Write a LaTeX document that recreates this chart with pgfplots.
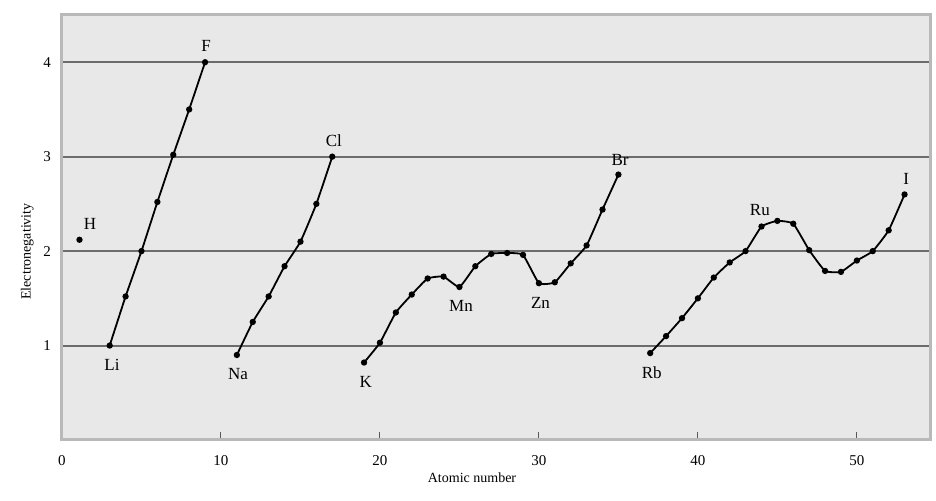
\documentclass[border=0pt]{standalone}
\usepackage{pgfplots}
\pgfplotsset{compat=1.18}
\usepackage{fontspec}
\setmainfont{Liberation Serif}
\begin{document}
\begin{tikzpicture}
\path (0,0) rectangle (468pt,250.5pt);
\begin{axis}[
  at={(31pt,30.5pt)}, anchor=south west,
  scale only axis, width=434pt, height=212.5pt,
  xmin=0, xmax=54.6, ymin=0, ymax=4.5,
  xtick={0,10,20,30,40,50}, ytick={1,2,3,4},
  /pgf/number format/assume math mode=true,
  tick label style={font=\fontsize{7.5}{8}\selectfont},
  xticklabel style={yshift=-4pt},
  yticklabel style={xshift=-2pt},
  tick align=inside, major tick length=4pt,
  xtick style={gray!70!black, line width=0.5pt},
  ytick style={draw=none},
  xtick pos=bottom,
  ymajorgrids, grid style={gray!85!black, line width=1pt},
  axis background/.style={fill=black!9},
  axis line style={gray!55, line width=1.5pt},
  xlabel={Atomic number}, ylabel={Electronegativity},
  label style={font=\fontsize{7}{8}\selectfont},
  xlabel style={yshift=3pt, xshift=-12pt},
  ylabel style={yshift=-2pt, xshift=-12pt},
  en/.style={black, line width=0.9pt, mark=*, mark size=1.1pt, mark options={solid, fill=black}, smooth, tension=0.25},
]
\draw[gray!25, line width=0.8pt] ([xshift=-3pt,yshift=-3pt]rel axis cs:0,0) rectangle ([xshift=3pt,yshift=3pt]rel axis cs:1,1);
\addplot[en] coordinates {(1.1,2.12)};
\addplot[en] coordinates {(3,1.0)(4,1.52)(5,2.0)(6,2.52)(7,3.02)(8,3.5)(9,4.0)};
\addplot[en] coordinates {(11,0.9)(12,1.25)(13,1.52)(14,1.84)(15,2.1)(16,2.5)(17,3.0)};
\addplot[en] coordinates {(19,0.82)(20,1.03)(21,1.35)(22,1.54)(23,1.71)(24,1.73)(25,1.62)(26,1.84)(27,1.97)(28,1.98)(29,1.96)(30,1.66)(31,1.67)(32,1.87)(33,2.06)(34,2.44)(35,2.81)};
\addplot[en] coordinates {(37,0.92)(38,1.10)(39,1.29)(40,1.50)(41,1.72)(42,1.88)(43,2.0)(44,2.26)(45,2.32)(46,2.29)(47,2.01)(48,1.79)(49,1.78)(50,1.90)(51,2.0)(52,2.22)(53,2.60)};
\begin{scope}[every node/.style={font=\fontsize{8.5}{9}\selectfont}]
\node at (axis cs:1.76,2.29) {H};
\node at (axis cs:9.06,4.17) {F};
\node at (axis cs:3.14,0.80) {Li};
\node at (axis cs:11.07,0.70) {Na};
\node at (axis cs:17.1,3.17) {Cl};
\node at (axis cs:19.1,0.61) {K};
\node at (axis cs:25.1,1.42) {Mn};
\node at (axis cs:30.1,1.45) {Zn};
\node at (axis cs:35.1,2.97) {Br};
\node at (axis cs:43.9,2.44) {Ru};
\node at (axis cs:37.1,0.71) {Rb};
\node at (axis cs:53.1,2.76) {I};
\end{scope}
\end{axis}
\end{tikzpicture}
\end{document}
